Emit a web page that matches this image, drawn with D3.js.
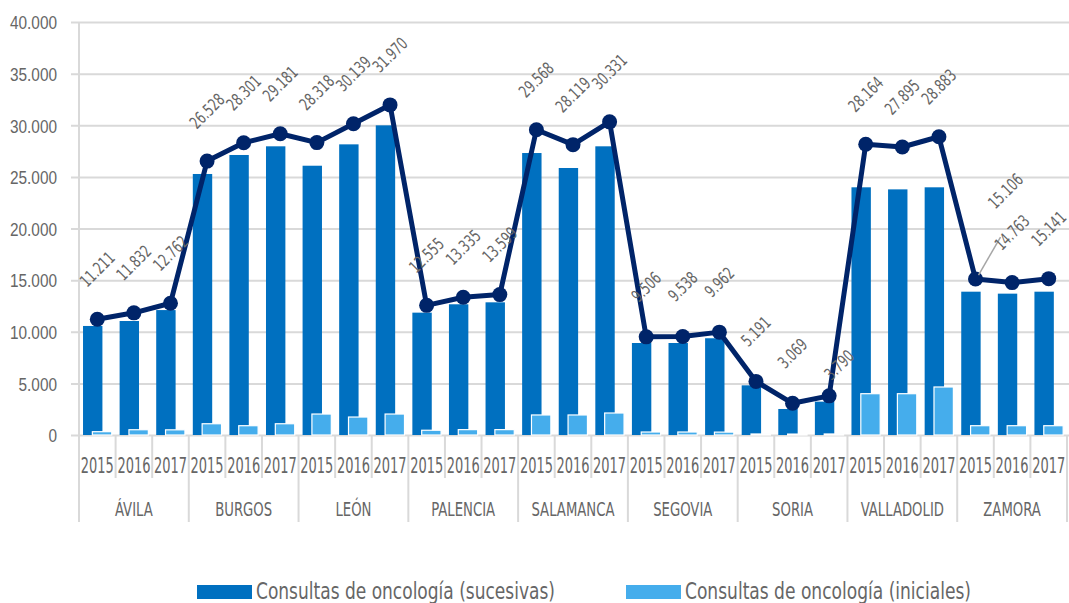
<!DOCTYPE html>
<html>
<head>
<meta charset="utf-8">
<script src="https://cdn.jsdelivr.net/npm/d3@7"></script>
<style>
	html, body { margin: 0; padding: 0; background: #fff; }
	svg { display: block; font-family: "Liberation Sans Narrow", "DejaVu Sans Condensed", "Roboto", sans-serif; }
</style>
</head>
<body>
<svg id="chart" width="1069" height="603"></svg>
<script>
// DATA
var provinces = ['ÁVILA', 'BURGOS', 'LEÓN', 'PALENCIA', 'SALAMANCA', 'SEGOVIA', 'SORIA', 'VALLADOLID', 'ZAMORA'];
var years = ['2015', '2016', '2017'];
var sucesivas = [
	10560, 11040, 12100,
	25280, 27120, 27960,
	26080, 28150, 29990,
	11850, 12660, 12850,
	27310, 25860, 27960,
	8910, 8910, 9370,
	4810, 2520, 3230,
	23990, 23790, 23990,
	13880, 13690, 13880
];
var iniciales = [
	320, 510, 500,
	1090, 900, 1090,
	2030, 1740, 2030,
	460, 520, 520,
	1940, 1940, 2130,
	290, 290, 280,
	100, 90, 100,
	4000, 4000, 4650,
	900, 900, 900
];
var totales = [
	11211, 11832, 12762,
	26528, 28301, 29181,
	28318, 30139, 31970,
	12555, 13335, 13599,
	29568, 28119, 30331,
	9506, 9538, 9962,
	5191, 3069, 3790,
	28164, 27895, 28883,
	15106, 14763, 15141
];
var yTicks = [0, 5000, 10000, 15000, 20000, 25000, 30000, 35000, 40000];
var legendLabels = ['Consultas de oncología (sucesivas)', 'Consultas de oncología (iniciales)'];

(function(d3){
	'use strict';

	var svg = d3.select('#chart');
	var left = 79, right = 1067, top = 22, bottom = 435;
	var colors = { dark: '#0070c0', light: '#45adec', line: '#002469', grid: '#d9d9d9', text: '#666666' };

	var es = d3.formatLocale({ decimal: ',', thousands: '.', grouping: [3], currency: ['', '€'] });
	var fmt = es.format(',');

	var index = d3.range(totales.length);
	var xScale = d3.scaleBand().domain(index).range([left, right]).padding(0);
	var yScale = d3.scaleLinear().domain([0, 40000]).range([bottom, top]);
	var bw = xScale.bandwidth();
	var barW = bw * 0.53, barShift = bw * 0.255, barStart = bw * 0.11;

	// label moved by hand in the original (dx, dy from the default spot)
	var labelShift = { 20: [10, 19], 24: [30, -38] };

	// the original uses a condensed face: scale every text of a group by
	// the factor that brings one sample text to its measured width
	function squeeze(sel, sample, target){
		var k = 1;
		sel.each(function(){
			if (this.textContent === sample) k = target / this.getComputedTextLength();
		});
		sel.each(function(){
			var w = this.getComputedTextLength();
			d3.select(this).attr('textLength', w * k).attr('lengthAdjust', 'spacingAndGlyphs');
		});
	}

	// GRID + Y AXIS
	var yAxis = d3.axisLeft(yScale).tickValues(yTicks).tickFormat(fmt)
		.tickSize(-(right - left + 8)).tickPadding(14);
	var gy = svg.append('g').attr('transform', 'translate(' + (left - 8) + ',0)').call(yAxis);
	gy.select('.domain').remove();
	gy.selectAll('.tick line').attr('transform', 'translate(8,0)').attr('x1', -8)
		.attr('stroke', colors.grid).attr('stroke-width', 2);
	var tickText = gy.selectAll('.tick text').attr('font-size', 19).attr('fill', colors.text)
		.attr('x', -14).attr('dy', '0.36em');
	squeeze(tickText, '40.000', 47);

	// CATEGORY SEPARATORS
	var bounds = d3.range(totales.length + 1);
	svg.append('g').selectAll('line').data(bounds).enter().append('line')
		.attr('x1', function(i){ return left + i * bw; })
		.attr('x2', function(i){ return left + i * bw; })
		.attr('y1', function(i){ return i === 0 ? top : bottom; })
		.attr('y2', function(i){ return i % 3 === 0 ? 522 : 478; })
		.attr('stroke', colors.grid).attr('stroke-width', 2);

	// BARS
	svg.append('g').selectAll('rect').data(sucesivas).enter().append('rect')
		.attr('x', function(d, i){ return xScale(i) + barStart; })
		.attr('y', function(d){ return yScale(d); })
		.attr('width', barW)
		.attr('height', function(d){ return bottom - yScale(d); })
		.attr('fill', colors.dark);
	svg.append('g').selectAll('rect').data(iniciales).enter().append('rect')
		.attr('x', function(d, i){ return xScale(i) + barStart + barShift; })
		.attr('y', function(d){ return yScale(d); })
		.attr('width', barW)
		.attr('height', function(d){ return bottom - yScale(d); })
		.attr('fill', colors.light).attr('stroke', '#fff').attr('stroke-width', 1.2);

	// LINE
	var cx = function(i){ return xScale(i) + bw / 2; };
	var line = d3.line().x(function(d, i){ return cx(i); }).y(function(d){ return yScale(d); });
	svg.append('path').datum(totales).attr('d', line)
		.attr('fill', 'none').attr('stroke', colors.line).attr('stroke-width', 5).attr('stroke-linejoin', 'round');
	svg.append('g').selectAll('circle').data(totales).enter().append('circle')
		.attr('cx', function(d, i){ return cx(i); })
		.attr('cy', function(d){ return yScale(d); })
		.attr('r', 7.5).attr('fill', colors.line);

	// DATA LABELS
	var labels = svg.append('g').selectAll('g').data(totales).enter().append('g')
		.attr('transform', function(d, i){
			var s = labelShift[i] || [0, 0];
			return 'translate(' + (cx(i) + s[0]) + ',' + (yScale(d) - 50 + s[1]) + ')';
		});
	labels.filter(function(d, i){ return i === 24; }).append('line')
		.attr('x1', -5).attr('y1', 46)
		.attr('x2', -labelShift[24][0] + 3)
		.attr('y2', -labelShift[24][1] + 46)
		.attr('stroke', '#a6a6a6').attr('stroke-width', 1.5);
	var labelText = labels.append('text')
		.attr('transform', 'rotate(-45)')
		.attr('text-anchor', 'middle').attr('dy', '0.35em')
		.attr('font-size', 17).attr('fill', colors.text)
		.text(function(d){ return fmt(d); });
	squeeze(labelText, '26.528', 41);

	// X LABELS
	var yearText = svg.append('g').selectAll('text').data(index).enter().append('text')
		.attr('x', function(i){ return cx(i); }).attr('y', 473)
		.attr('text-anchor', 'middle').attr('font-size', 22).attr('fill', colors.text)
		.text(function(i){ return years[i % 3]; });
	squeeze(yearText, '2015', 33);
	var provText = svg.append('g').selectAll('text').data(provinces).enter().append('text')
		.attr('x', function(d, p){ return left + (p * 3 + 1.5) * bw; }).attr('y', 516)
		.attr('text-anchor', 'middle').attr('font-size', 19).attr('fill', colors.text)
		.text(function(d){ return d; });
	squeeze(provText, 'BURGOS', 57);

	// LEGEND
	var legendX = [197, 626];
	var legendW = [299, 286];
	var lg = svg.append('g').selectAll('g').data(legendLabels).enter().append('g')
		.attr('transform', function(d, i){ return 'translate(' + legendX[i] + ',0)'; });
	lg.append('rect').attr('x', 0).attr('y', 585).attr('width', 55).attr('height', 14)
		.attr('fill', function(d, i){ return i === 0 ? colors.dark : colors.light; });
	lg.append('text').attr('x', 59).attr('y', 599).attr('font-size', 23).attr('fill', colors.text)
		.attr('textLength', function(d, i){ return legendW[i]; }).attr('lengthAdjust', 'spacingAndGlyphs')
		.text(function(d){ return d; });

})(d3);
</script>
</body>
</html>
